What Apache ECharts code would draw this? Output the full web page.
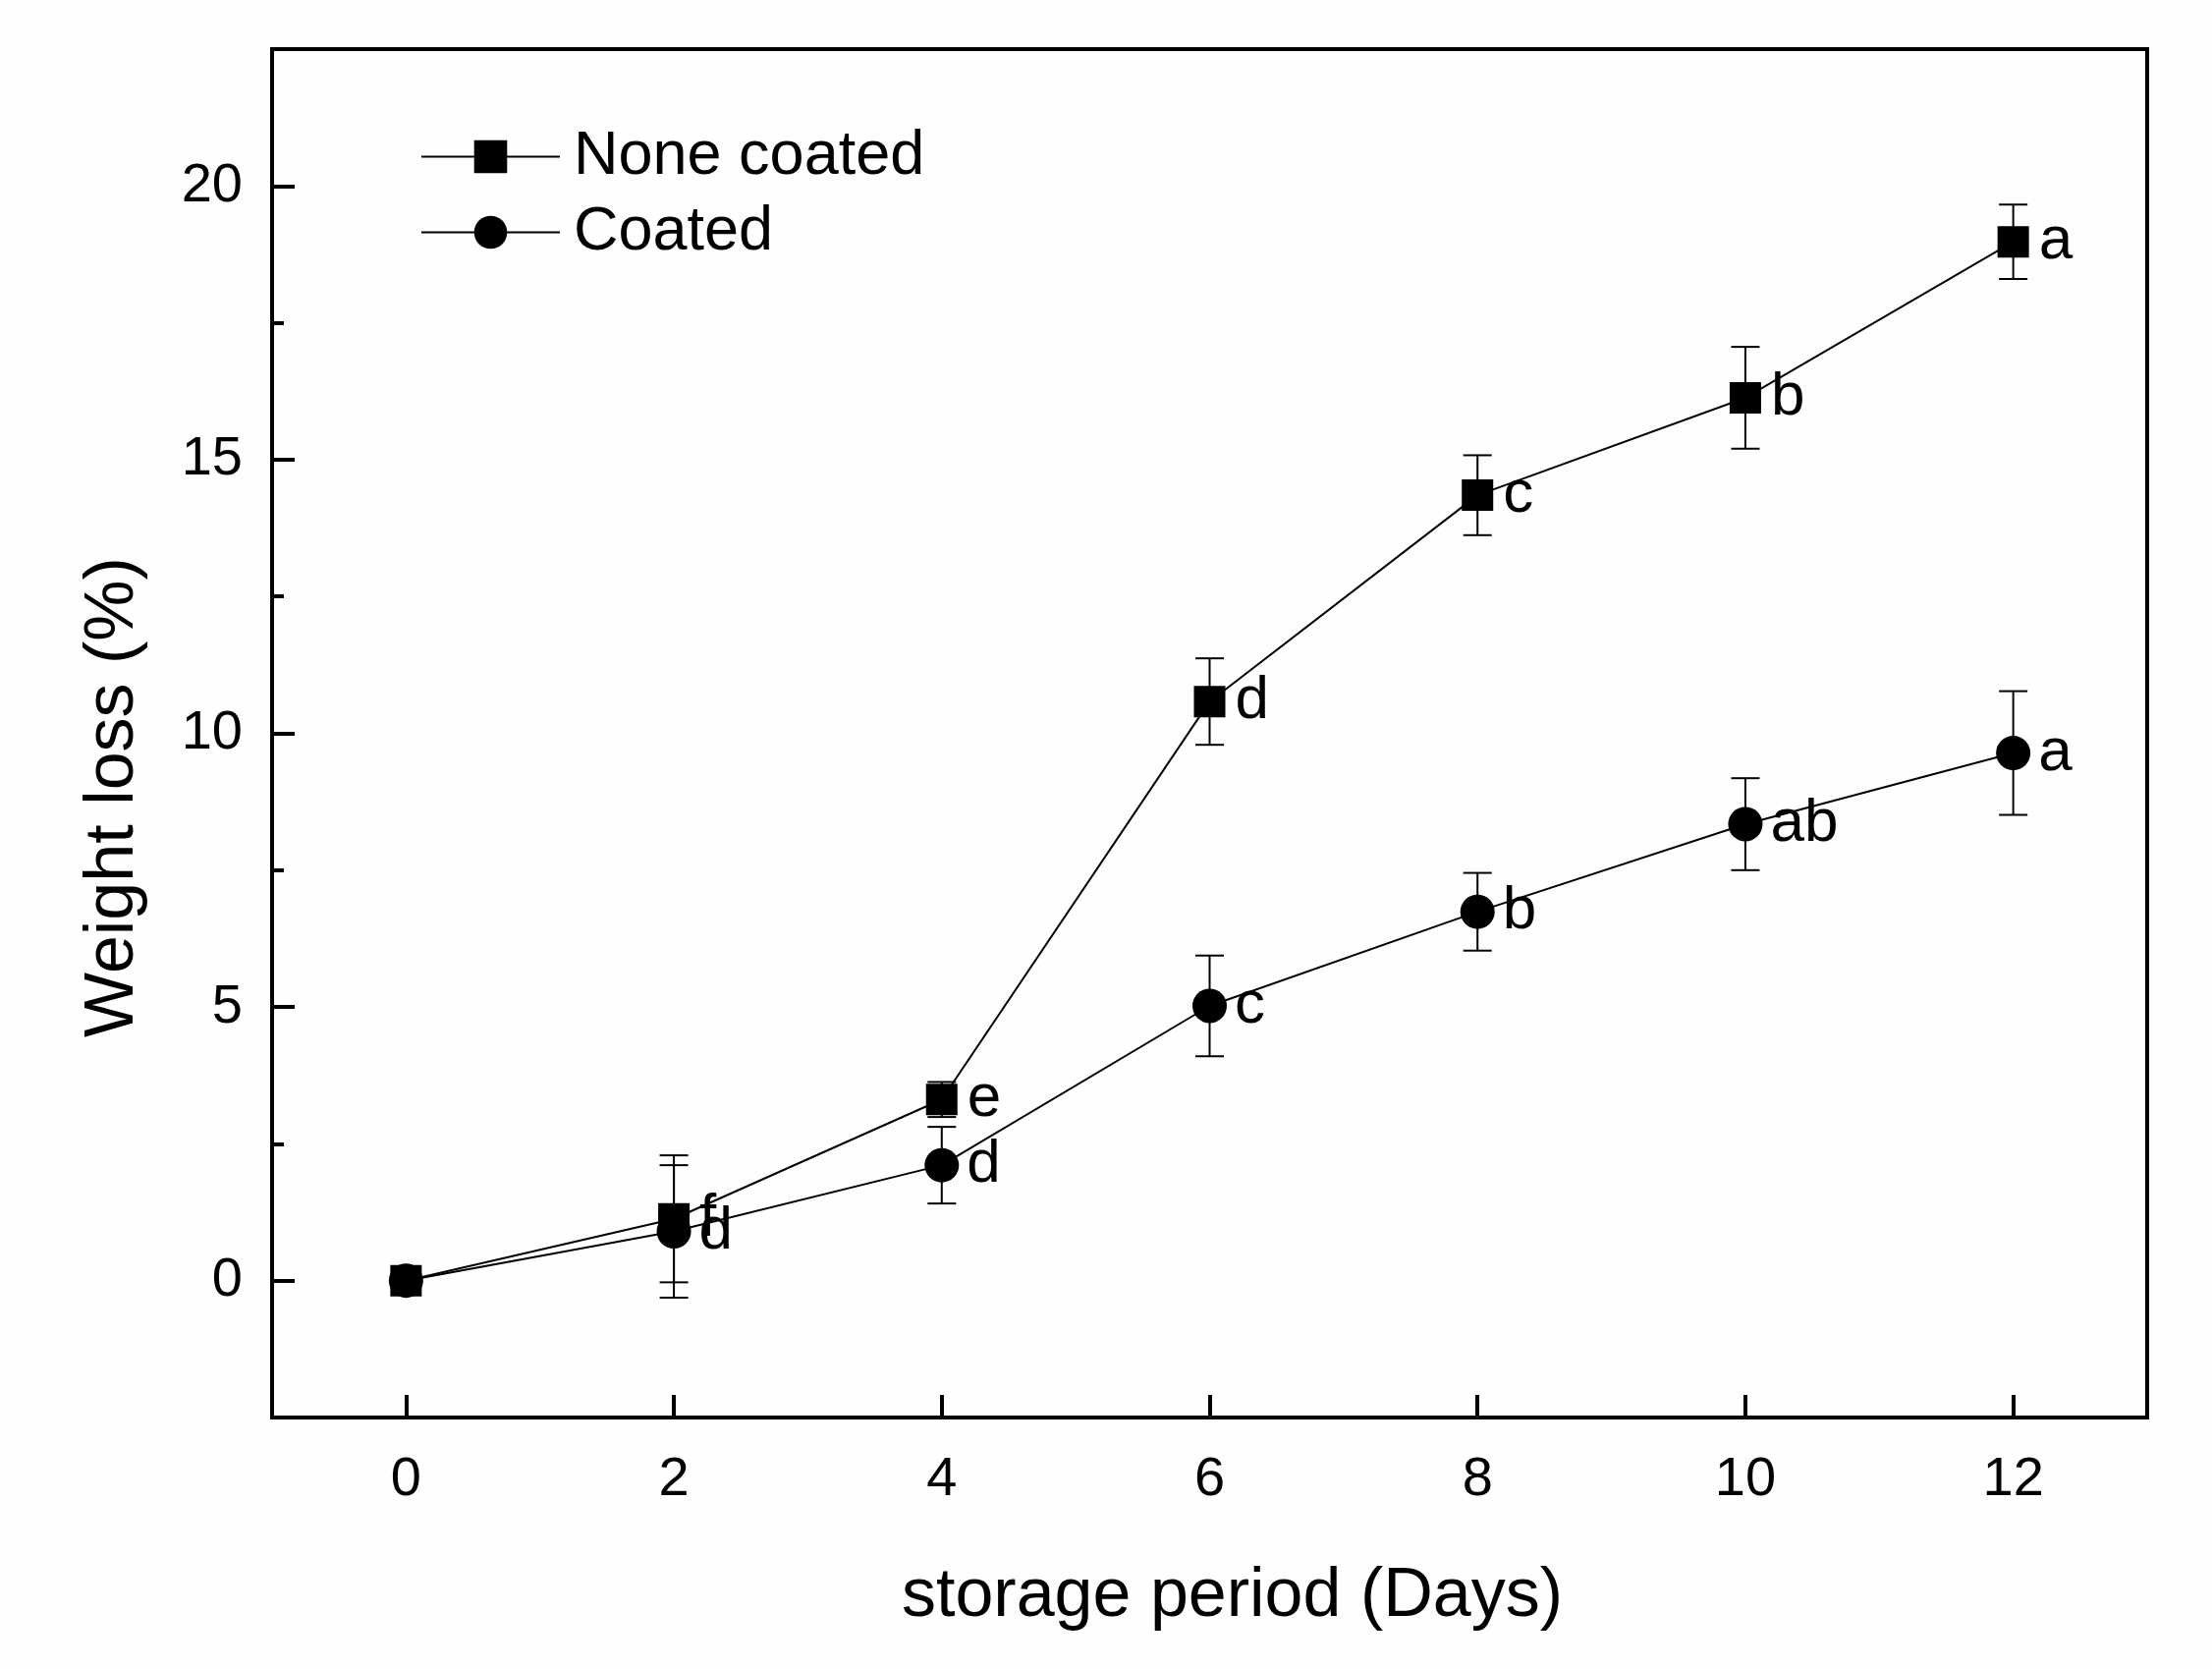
<!DOCTYPE html>
<html>
<head>
<meta charset="utf-8">
<script src="https://cdn.jsdelivr.net/npm/echarts@6/dist/echarts.min.js"></script>
<style>
html,body{margin:0;padding:0;background:#fefefe;}
#chart{width:2252px;height:1699px;}
</style>
</head>
<body>
<div id="chart"></div>
<script>
// ---- data ----
const days = [0, 2, 4, 6, 8, 10, 12];
const noneCoated = [0, 1.13, 3.31, 10.58, 14.35, 16.13, 18.98];
const noneCoatedErr = [0, 1.16, 0.32, 0.79, 0.73, 0.93, 0.68];
const noneCoatedLetters = ['', 'f', 'e', 'd', 'c', 'b', 'a'];
const coated = [0, 0.90, 2.11, 5.02, 6.74, 8.34, 9.64];
const coatedErr = [0, 1.21, 0.70, 0.92, 0.71, 0.84, 1.13];
const coatedLetters = ['', 'd', 'd', 'c', 'b', 'ab', 'a'];
const xTicks = [0, 2, 4, 6, 8, 10, 12];
const yTicks = [0, 5, 10, 15, 20];
const yMinorTicks = [-2.5, 2.5, 7.5, 12.5, 17.5, 22.5];
const seriesNames = ['None coated', 'Coated'];

const FONT = "'Liberation Sans', Arial, sans-serif";

function pts(vals) { return days.map((d, i) => [d, vals[i]]); }
function errs(vals, e) { return days.map((d, i) => [d, vals[i] - e[i], vals[i] + e[i]]); }

function errorRender(params, api) {
  const x = api.value(0), lo = api.value(1), hi = api.value(2);
  if (hi - lo <= 0) return null;
  const a = api.coord([x, lo]), b = api.coord([x, hi]);
  const hw = 14.5;
  const st = { stroke: '#000', lineWidth: 2 };
  return {
    type: 'group',
    children: [
      { type: 'line', shape: { x1: a[0], y1: a[1], x2: b[0], y2: b[1] }, style: st },
      { type: 'line', shape: { x1: a[0] - hw, y1: a[1], x2: a[0] + hw, y2: a[1] }, style: st },
      { type: 'line', shape: { x1: b[0] - hw, y1: b[1], x2: b[0] + hw, y2: b[1] }, style: st }
    ]
  };
}

function letterLabel(letters, dist) {
  return {
    show: true, position: 'right', distance: dist,
    color: '#000', fontFamily: FONT, fontSize: 62,
    formatter: p => letters[p.dataIndex]
  };
}

const chart = echarts.init(document.getElementById('chart'));
chart.setOption({
  backgroundColor: '#fefefe',
  animation: false,
  grid: { left: 277, right: 66, top: 50, bottom: 256, show: true, borderColor: '#000', borderWidth: 4, backgroundColor: 'transparent' },
  legend: {
    left: 423, top: 123, orient: 'vertical',
    itemWidth: 141, itemHeight: 42, itemGap: 14,
    textStyle: { fontFamily: FONT, fontSize: 63, color: '#000', padding: [0, 0, 0, 9] },
    data: seriesNames
  },
  xAxis: {
    type: 'value', min: -1, max: 13,
    name: 'storage period (Days)', nameLocation: 'middle', nameGap: 148,
    nameTextStyle: { fontFamily: FONT, fontSize: 70, color: '#000', padding: [0, 0, 0, 46] },
    axisLine: { show: true, onZero: false, lineStyle: { color: '#000', width: 4 } },
    axisTick: { show: true, inside: true, length: 23, lineStyle: { color: '#000', width: 4 }, customValues: xTicks },
    axisLabel: { customValues: xTicks, margin: 36, fontFamily: FONT, fontSize: 56, color: '#000' },
    splitLine: { show: false }
  },
  yAxis: [{
    type: 'value', min: -2.5, max: 22.5,
    name: 'Weight loss (%)', nameLocation: 'middle', nameGap: 126, nameRotate: 90,
    nameTextStyle: { fontFamily: FONT, fontSize: 70, color: '#000', padding: [0, 130, 0, 0] },
    axisLine: { show: true, onZero: false, lineStyle: { color: '#000', width: 4 } },
    axisTick: { show: true, inside: true, length: 23, lineStyle: { color: '#000', width: 4 }, customValues: yTicks },
    axisLabel: { customValues: yTicks, margin: 30, fontFamily: FONT, fontSize: 56, color: '#000' },
    splitLine: { show: false }
  }, {
    type: 'value', min: -2.5, max: 22.5, position: 'left', offset: 0,
    axisLine: { show: false, onZero: false },
    axisTick: { show: true, inside: true, length: 12, lineStyle: { color: '#000', width: 4 }, customValues: yMinorTicks },
    axisLabel: { show: false },
    splitLine: { show: false }
  }],
  series: [
    { type: 'custom', renderItem: errorRender, data: errs(noneCoated, noneCoatedErr), z: 1, silent: true },
    { type: 'custom', renderItem: errorRender, data: errs(coated, coatedErr), z: 1, silent: true },
    {
      name: seriesNames[0], type: 'line', data: pts(noneCoated), z: 3,
      symbol: 'rect', symbolSize: 32, showAllSymbol: true,
      itemStyle: { color: '#000' }, lineStyle: { color: '#000', width: 2 },
      label: letterLabel(noneCoatedLetters, 10)
    },
    {
      name: seriesNames[1], type: 'line', data: pts(coated), z: 3,
      symbol: 'circle', symbolSize: 35, showAllSymbol: true,
      itemStyle: { color: '#000' }, lineStyle: { color: '#000', width: 2 },
      label: letterLabel(coatedLetters, 8)
    }
  ]
});
</script>
</body>
</html>
